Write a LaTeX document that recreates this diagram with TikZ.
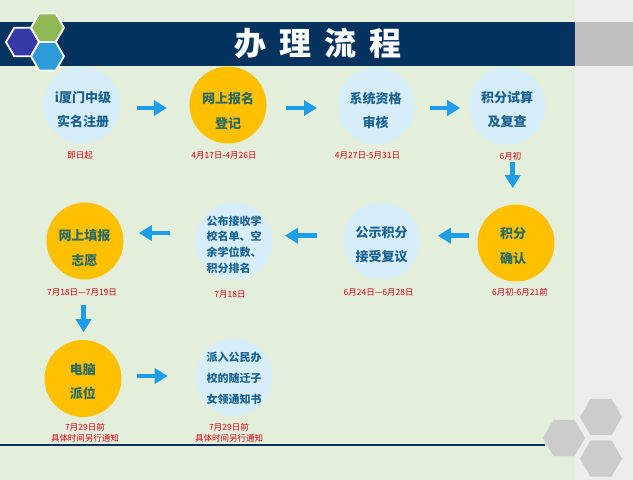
\documentclass[tikz,border=0pt]{standalone}
\usepackage{fontspec}
\setmainfont{Noto Sans CJK SC}
\usetikzlibrary{arrows.meta,calc}
\definecolor{bggreen}{HTML}{E3EFDA}
\definecolor{bggray}{HTML}{EDEDED}
\definecolor{navy}{HTML}{04325F}
\definecolor{bannergray}{HTML}{C0C0C0}
\definecolor{lightblue}{HTML}{D5EEFA}
\definecolor{myorange}{HTML}{FFC000}
\definecolor{bluetext}{HTML}{1C6291}
\definecolor{orangetext}{HTML}{2C6A62}
\definecolor{datered}{HTML}{E00010}
\definecolor{arrowblue}{HTML}{1E9DE8}
\definecolor{hexpurple}{HTML}{3838A8}
\definecolor{hexgreen}{HTML}{8DB854}
\definecolor{hexblue}{HTML}{2E9AD6}
\definecolor{hexgray}{HTML}{CCCCCC}
\newcommand\myhex[3]{\path[#1] (#2) +(0:#3) -- +(60:#3) -- +(120:#3) -- +(180:#3) -- +(240:#3) -- +(300:#3) -- cycle;}
\begin{document}
\begin{tikzpicture}[x=1pt,y=-1pt,
  circ/.style={circle, minimum size=77pt, inner sep=0pt},
  bluec/.style={circ, fill=lightblue},
  orangec/.style={circ, fill=myorange},
  btxt/.style={text=bluetext, align=center, inner sep=0pt, font=\bfseries\fontsize{13}{24}\selectfont},
  otxt/.style={text=orangetext, align=center, inner sep=0pt, font=\bfseries\fontsize{13}{25}\selectfont},
  datelbl/.style={text=datered, font=\fontsize{8.5}{11}\selectfont, align=center, inner sep=0pt},
  arr/.style={draw=arrowblue, line width=4.7pt, -{Triangle[length=13pt,width=15pt]}},
]
\useasboundingbox (0,0) rectangle (633,480);
% backgrounds
\fill[bggreen] (0,0) rectangle (575,480);
\fill[bggray] (575,0) rectangle (633,480);
% banner
\fill[navy] (0,22) rectangle (575,66);
\fill[bannergray] (575,22) rectangle (633,66);
\node[text=white, font=\bfseries\fontsize{32}{32}\selectfont, inner sep=0pt] (title) at (317.6,43)
  {办\hspace{13pt}理\hspace{13pt}流\hspace{13pt}程};
% top-left hexagons
\myhex{fill=hexpurple, draw=white, line width=1.8pt}{22.5,42}{16.5}
\myhex{fill=hexgreen, draw=white, line width=1.8pt}{47.5,27.7}{16.5}
\myhex{fill=hexblue, draw=white, line width=1.8pt}{47.5,56.3}{16.5}
% bottom line
\draw[navy, line width=1.2pt] (0,445) -- (545,445);
% gray hexagons
\myhex{fill=hexgray}{601,417}{21}
\myhex{fill=hexgray}{564,438}{21}
\myhex{fill=hexgray}{601,458.5}{21}
% row 1
\node[bluec] (c1) at (81.7,105) {};
\node[orangec] (c2) at (228,105) {};
\node[bluec] (c3) at (376,106) {};
\node[bluec] (c4) at (507,106) {};
\node[btxt] (t1) at (83,110) {i厦门中级\\实名注册};
\node[otxt] (t2) at (228,110.5) {网上报名\\登记};
\node[btxt] (t3) at (375.5,110) {系统资格\\审核};
\node[btxt] (t4) at (507,110) {积分试算\\及复查};
% row 2
\node[orangec] (c5) at (516,243) {};
\node[bluec] (c6) at (381.5,241) {};
\node[bluec] (c7) at (234,241) {};
\node[orangec] (c8) at (85,241) {};
\node[otxt] (t5) at (513,246) {积分\\确认};
\node[btxt] (t6) at (381.5,244.5) {公示积分\\接受复议};
\node[btxt, align=left, font=\bfseries\fontsize{11}{15.7}\selectfont] (t7) at (234,244.5)
  {公布接收学\\校名单、空\\余学位数、\\积分排名};
\node[otxt] (t8) at (84.5,248) {网上填报\\志愿};
% row 3
\node[orangec] (c9) at (83,378.5) {};
\node[bluec] (c10) at (234,377) {};
\node[otxt, font=\bfseries\fontsize{13}{24}\selectfont] (t9) at (83,381.5) {电脑\\派位};
\node[btxt, font=\bfseries\fontsize{11}{21}\selectfont] (t10) at (234,378.5) {派入公民办\\校的随迁子\\女领通知书};
% date labels
\node[datelbl] (d1) at (80,155) {即日起};
\node[datelbl] (d2) at (224,155) {4月17日-4月26日};
\node[datelbl] (d3) at (367.5,155) {4月27日-5月31日};
\node[datelbl] (d4) at (510.5,156.7) {6月初};
\node[datelbl] (d5) at (82,292.7) {7月18日—7月19日};
\node[datelbl] (d6) at (230,294) {7月18日};
\node[datelbl] (d7) at (378.6,292.7) {6月24日—6月28日};
\node[datelbl] (d8) at (520,292.7) {6月初-6月21前};
\node[datelbl] (d9) at (85,432.5) {7月29日前\\具体时间另行通知};
\node[datelbl] (d10) at (229,432.5) {7月29日前\\具体时间另行通知};
% arrows
\draw[arr] ([shift={(16.5,3)}]c1.east) -- ++(30,0);
\draw[arr] ([shift={(19.3,3)}]c2.east) -- ++(31,0);
\draw[arr] ([shift={(15.5,2)}]c3.east) -- ++(30,0);
\draw[arr] ([shift={(5.7,17.2)}]c4.south) -- ++(0,26.3);
\draw[arr] ([shift={(-8.5,-7.3)}]c5.west) -- ++(-31,0);
\draw[arr] ([shift={(-26.3,-5.3)}]c6.west) -- ++(-31.7,0);
\draw[arr] ([shift={(-25.5,-8)}]c7.west) -- ++(-31,0);
\draw[arr] ([shift={(-1.4,25.5)}]c8.south) -- ++(0,27);
\draw[arr] ([shift={(15,-2.5)}]c9.east) -- ++(31,0);
\end{tikzpicture}
\end{document}
